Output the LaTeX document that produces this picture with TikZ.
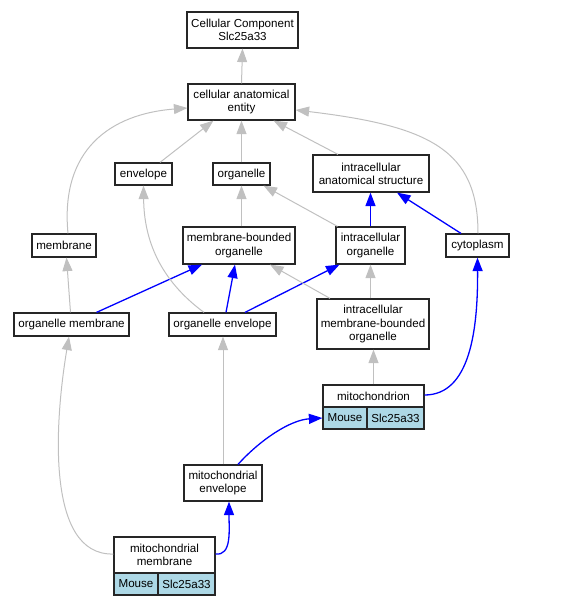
\documentclass[tikz,border=0pt]{standalone}
\usepackage{fontspec}
\setmainfont{Liberation Sans}
\usetikzlibrary{arrows.meta}
\definecolor{edgegray}{RGB}{192,192,192}
\definecolor{cellblue}{RGB}{173,216,230}
\tikzset{
  box/.style={draw=black!85, line width=1.2pt, fill=white, inner sep=0pt, align=center,
    font=\fontsize{11.6}{13.2}\selectfont, anchor=center},
  cell/.style={box, fill=cellblue},
  isa/.style={draw=edgegray, line width=1pt, -{Triangle[length=13.5pt,width=10pt]}},
  partof/.style={draw=blue, line width=1.3pt, -{Triangle[length=13.5pt,width=10pt]}},
}
\begin{document}
\begin{tikzpicture}[x=1pt,y=-1pt]
\useasboundingbox (0,0) rectangle (580,605);
% nodes
\node[box, minimum width=111pt, minimum height=36pt] (cc) at (242.5,30) {Cellular Component\\Slc25a33};
\node[box, minimum width=107pt, minimum height=36pt] (cae) at (241.5,102) {cellular anatomical\\entity};
\node[box, minimum width=57pt, minimum height=22pt] (env) at (143.5,174) {envelope};
\node[box, minimum width=57pt, minimum height=22pt] (org) at (241.5,174) {organelle};
\node[box, minimum width=116pt, minimum height=37pt] (ias) at (371,173.5) {intracellular\\anatomical structure};
\node[box, minimum width=64pt, minimum height=23pt] (mem) at (64,245.5) {membrane};
\node[box, minimum width=112pt, minimum height=37pt] (mbo) at (239,245.5) {membrane-bounded\\organelle};
\node[box, minimum width=69pt, minimum height=37pt] (io) at (370.5,245.5) {intracellular\\organelle};
\node[box, minimum width=63pt, minimum height=23pt] (cyto) at (477.5,245.5) {cytoplasm};
\node[box, minimum width=115pt, minimum height=23pt] (om) at (71.5,324.5) {organelle membrane};
\node[box, minimum width=107pt, minimum height=23pt] (oe) at (222.5,324.5) {organelle envelope};
\node[box, minimum width=112pt, minimum height=50pt] (imbo) at (373,324) {intracellular\\membrane-bounded\\organelle};
% mitochondrion
\node[box, minimum width=101pt, minimum height=22pt] (mito) at (373.5,396) {mitochondrion};
\node[cell, minimum width=44pt, minimum height=22pt] (mitoM) at (345,418) {Mouse};
\node[cell, minimum width=57pt, minimum height=22pt] (mitoS) at (395.5,418) {Slc25a33};
% mitochondrial envelope
\node[box, minimum width=78pt, minimum height=36pt] (me) at (223,483) {mitochondrial\\envelope};
% mitochondrial membrane
\node[box, minimum width=101pt, minimum height=36pt] (mm) at (164.5,555) {mitochondrial\\membrane};
\node[cell, minimum width=44pt, minimum height=22pt] (mmM) at (136,584) {Mouse};
\node[cell, minimum width=57pt, minimum height=22pt] (mmS) at (186.5,584) {Slc25a33};
% edges
\draw[isa] (cae.north) -- (cc.south);
\draw[isa] ([xshift=16.5pt]env.north) -- ([xshift=-28pt]cae.south);
\draw[isa] (org.north) -- (cae.south);
\draw[isa] ([xshift=-33pt]ias.north) -- ([xshift=32pt]cae.south);
\draw[isa] ([xshift=4pt]mem.north) .. controls (60,150) and (110,114) .. ([yshift=-6pt]cae.west);
\draw[isa] ([xshift=0.5pt]cyto.north) .. controls (478,150) and (430,126) .. ([yshift=-8pt]cae.east);
\draw[isa] (org.south |- mbo.north) -- (org.south);
\draw[isa] ([xshift=-33pt]io.north) -- ([xshift=22pt]org.south);
\draw[partof] (io.north) -- (io.north |- ias.south);
\draw[partof] ([xshift=-16.5pt]cyto.north) -- ([xshift=26pt]ias.south);
\draw[isa] ([xshift=-1pt]om.north) -- ([xshift=2.5pt]mem.south);
\draw[partof] ([xshift=25pt]om.north) -- ([xshift=-37pt]mbo.south);
\draw[isa] ([xshift=-18.5pt]oe.north) .. controls (160,280) and (144,240) .. (env.south);
\draw[partof] ([xshift=3.5pt]oe.north) -- ([xshift=-4pt]mbo.south);
\draw[partof] ([xshift=22.5pt]oe.north) -- ([xshift=-31pt]io.south);
\draw[isa] ([xshift=-43pt]imbo.north) -- ([xshift=31pt]mbo.south);
\draw[isa] (io.south |- imbo.north) -- (io.south);
\draw[isa] (mito.north) -- (mito.north |- imbo.south);
\draw[partof] ([yshift=1pt]mito.east) .. controls (470,395) and (478,330) .. (cyto.south);
\draw[isa] (me.north) -- (me.north |- oe.south);
\draw[partof] ([xshift=15pt]me.north) .. controls (260,440) and (290,420) .. (mitoM.west);
\draw[partof] ([yshift=1pt]mm.east) .. controls (232,556) and (229,530) .. ([xshift=6pt]me.south);
\draw[isa] ([yshift=1pt]mm.west) .. controls (45,556) and (55,420) .. ([xshift=-2.5pt]om.south);
\end{tikzpicture}
\end{document}
